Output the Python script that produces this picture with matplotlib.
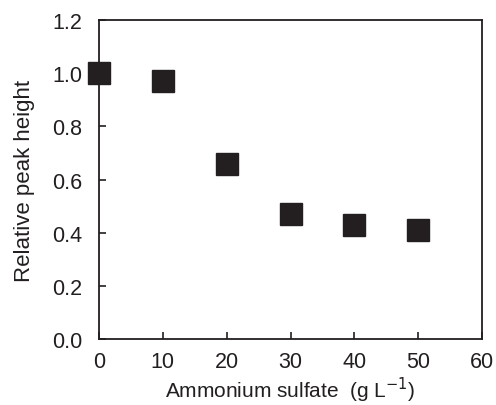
import matplotlib
matplotlib.use("Agg")
import matplotlib.pyplot as plt

# data
ammonium = [0, 10, 20, 30, 40, 50]
rel_height = [1.0, 0.97, 0.66, 0.47, 0.43, 0.41]

xticks = [0, 10, 20, 30, 40, 50, 60]
yticks = [0.0, 0.2, 0.4, 0.6, 0.8, 1.0, 1.2]

plt.rcParams['font.family'] = ['Liberation Sans', 'DejaVu Sans']

fig = plt.figure(figsize=(4.96, 4.06), dpi=100)
ax = fig.add_axes([0.1996, 0.1626, 0.7724, 0.7854])

ax.plot(ammonium, rel_height, ls='none', marker='s', ms=15.5,
        mfc='#231f20', mec='#231f20', clip_on=False, zorder=3)

ax.set_xlim(0, 60)
ax.set_ylim(0, 1.2)
ax.set_xticks(xticks)
ax.set_yticks(yticks)
ax.set_xticklabels([str(v) for v in xticks])
ax.set_yticklabels(["%.1f" % v for v in yticks])

for s in ax.spines.values():
    s.set_linewidth(1.3)
    s.set_color('#231f20')

ax.tick_params(direction='in', length=5, width=1.2, labelsize=15.5,
               colors='#231f20', top=False, right=False)
ax.tick_params(axis='y', pad=12)
ax.tick_params(axis='x', pad=9)

ax.set_xlabel("Ammonium sulfate  (g L$^{-1}$)", fontsize=15, labelpad=2,
              color='#231f20')
ax.set_ylabel("Relative peak height", fontsize=16, labelpad=12,
              color='#231f20')

fig.savefig("out.png", dpi=100)
